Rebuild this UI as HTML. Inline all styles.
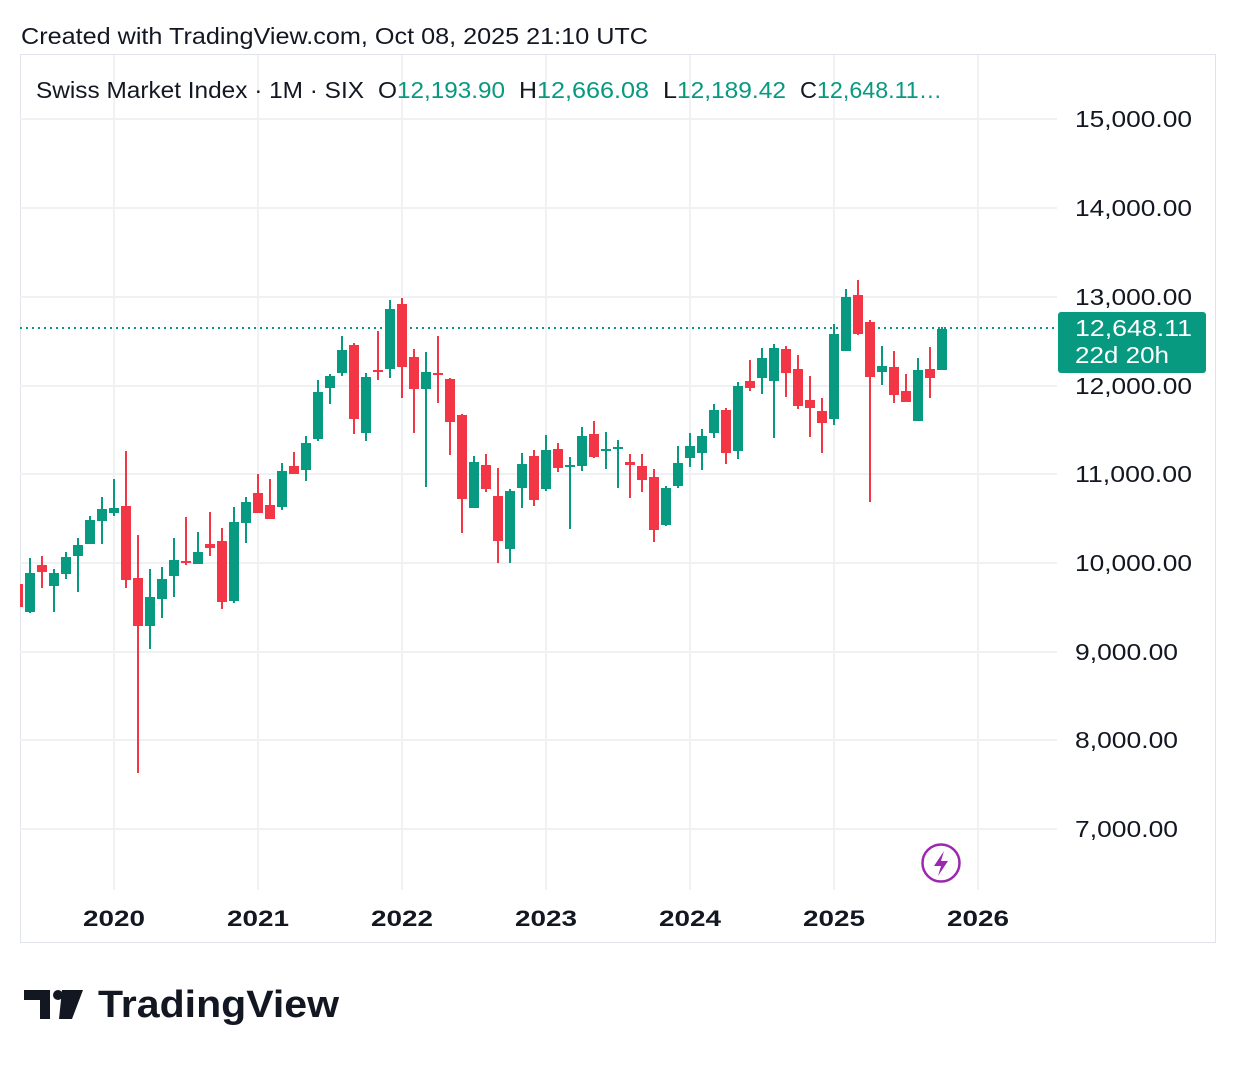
<!DOCTYPE html>
<html><head><meta charset="utf-8"><style>
body{margin:0;background:#fff;width:1236px;height:1064px;overflow:hidden;font-family:"Liberation Sans",sans-serif;}
</style></head><body>
<svg width="1236" height="1064" xmlns="http://www.w3.org/2000/svg" font-family="Liberation Sans, sans-serif">
<text x="21" y="44" font-size="23" fill="#131722" textLength="627" lengthAdjust="spacingAndGlyphs">Created with TradingView.com, Oct 08, 2025 21:10 UTC</text>
<rect x="20.5" y="54.5" width="1195" height="888" fill="none" stroke="#e0e3eb"/>
<g stroke="#f0f1f3" stroke-width="2">
<line x1="20" x2="1057" y1="119" y2="119"/><line x1="20" x2="1057" y1="208" y2="208"/><line x1="20" x2="1057" y1="297" y2="297"/><line x1="20" x2="1057" y1="386" y2="386"/><line x1="20" x2="1057" y1="474" y2="474"/><line x1="20" x2="1057" y1="563" y2="563"/><line x1="20" x2="1057" y1="652" y2="652"/><line x1="20" x2="1057" y1="740" y2="740"/><line x1="20" x2="1057" y1="829" y2="829"/>
<line x1="114" x2="114" y1="55" y2="890"/><line x1="258" x2="258" y1="55" y2="890"/><line x1="402" x2="402" y1="55" y2="890"/><line x1="546" x2="546" y1="55" y2="890"/><line x1="690" x2="690" y1="55" y2="890"/><line x1="834" x2="834" y1="55" y2="890"/><line x1="978" x2="978" y1="55" y2="890"/>
</g>
<line x1="20" x2="1057" y1="328" y2="328" stroke="#089981" stroke-width="2" stroke-dasharray="2,4"/>
<g id="c"></g>
<rect x="0" y="560" width="20" height="60" fill="#fff"/>
<g font-size="23" fill="#131722">
<text x="36" y="98" textLength="328" lengthAdjust="spacingAndGlyphs">Swiss Market Index · 1M · SIX</text>
<text x="378" y="98" textLength="19" lengthAdjust="spacingAndGlyphs">O</text>
<text x="397" y="98" fill="#089981" textLength="108" lengthAdjust="spacingAndGlyphs">12,193.90</text>
<text x="519" y="98" textLength="18" lengthAdjust="spacingAndGlyphs">H</text>
<text x="537" y="98" fill="#089981" textLength="112" lengthAdjust="spacingAndGlyphs">12,666.08</text>
<text x="663" y="98" textLength="14" lengthAdjust="spacingAndGlyphs">L</text>
<text x="677" y="98" fill="#089981" textLength="109" lengthAdjust="spacingAndGlyphs">12,189.42</text>
<text x="800" y="98" textLength="17" lengthAdjust="spacingAndGlyphs">C</text>
<text x="817" y="98" fill="#089981" textLength="125" lengthAdjust="spacingAndGlyphs">12,648.11…</text>
</g>
<g font-size="23" fill="#131722">
<text x="1075" y="127" textLength="117" lengthAdjust="spacingAndGlyphs">15,000.00</text><text x="1075" y="216" textLength="117" lengthAdjust="spacingAndGlyphs">14,000.00</text><text x="1075" y="305" textLength="117" lengthAdjust="spacingAndGlyphs">13,000.00</text><text x="1075" y="394" textLength="117" lengthAdjust="spacingAndGlyphs">12,000.00</text><text x="1075" y="482" textLength="117" lengthAdjust="spacingAndGlyphs">11,000.00</text><text x="1075" y="571" textLength="117" lengthAdjust="spacingAndGlyphs">10,000.00</text><text x="1075" y="660" textLength="103" lengthAdjust="spacingAndGlyphs">9,000.00</text><text x="1075" y="748" textLength="103" lengthAdjust="spacingAndGlyphs">8,000.00</text><text x="1075" y="837" textLength="103" lengthAdjust="spacingAndGlyphs">7,000.00</text>
</g>
<rect x="1058" y="312" width="148" height="61" rx="3" fill="#089981"/>
<text x="1075" y="336" font-size="23" fill="#fff" textLength="117" lengthAdjust="spacingAndGlyphs">12,648.11</text>
<text x="1075" y="363" font-size="23" fill="#fff" textLength="94" lengthAdjust="spacingAndGlyphs">22d 20h</text>
<g font-size="22" font-weight="bold" fill="#131722">
<text x="83" y="926" textLength="62" lengthAdjust="spacingAndGlyphs">2020</text><text x="227" y="926" textLength="62" lengthAdjust="spacingAndGlyphs">2021</text><text x="371" y="926" textLength="62" lengthAdjust="spacingAndGlyphs">2022</text><text x="515" y="926" textLength="62" lengthAdjust="spacingAndGlyphs">2023</text><text x="659" y="926" textLength="62" lengthAdjust="spacingAndGlyphs">2024</text><text x="803" y="926" textLength="62" lengthAdjust="spacingAndGlyphs">2025</text><text x="947" y="926" textLength="62" lengthAdjust="spacingAndGlyphs">2026</text>
</g>
<circle cx="941" cy="863" r="18.5" fill="none" stroke="#9c27b0" stroke-width="2.5"/>
<path d="M944 851 L934 866 L941 866 L938 876 L948 861 L941 861 Z" fill="#9c27b0"/>
<g fill="#131722">
<path d="M24 990 H50 V1019 H40 V1000 H24 Z"/>
<circle cx="58" cy="995" r="5"/>
<path d="M62 990 H83 L72 1019 H59 Z"/>
</g>
<text x="98" y="1017" font-size="38" font-weight="bold" fill="#131722" textLength="241" lengthAdjust="spacingAndGlyphs">TradingView</text>
</svg>
<script>
var d=[
[18,580,610,584,607,0],
[30,558,613,573,612,1],[42,556,588,565,572,0],[54,569,612,573,586,1],[66,552,579,557,574,1],[78,538,592,545,556,1],[90,516,544,520,544,1],[102,497,544,509,521,1],[114,479,516,508,513,1],[126,451,588,506,580,0],[138,535,773,578,626,0],[150,569,649,597,626,1],[162,567,618,579,599,1],[174,538,597,560,576,1],[186,517,565,561,563,0],[198,532,564,552,564,1],[210,512,556,544,548,0],[222,528,609,541,602,0],[234,507,603,522,601,1],[246,497,543,502,523,1],[258,474,513,493,513,0],[270,479,519,505,519,0],[282,463,510,471,507,1],[294,452,474,466,474,0],[306,436,481,443,470,1],[318,380,441,392,439,1],[330,374,404,376,388,1],[342,336,376,350,373,1],[354,343,434,345,419,0],[366,373,441,377,433,1],[378,331,380,370,372,0],[390,300,378,309,369,1],[402,298,398,304,367,0],[414,349,433,357,389,0],[426,352,487,372,389,1],[438,336,403,373,375,0],[450,378,455,379,422,0],[462,414,533,415,499,0],[474,456,508,462,508,1],[486,454,492,465,489,0],[498,468,563,496,541,0],[510,489,563,491,549,1],[522,453,508,464,488,1],[534,450,506,456,500,0],[546,435,491,450,489,1],[558,443,472,449,468,0],[570,457,529,465,467,1],[582,427,471,436,466,1],[594,421,458,434,457,0],[606,432,469,449,451,1],[618,440,488,447,449,1],[630,454,498,462,465,0],[642,454,492,466,480,0],[654,469,542,477,530,0],[666,486,526,488,525,1],[678,446,488,463,486,1],[690,433,467,446,458,1],[702,429,470,436,453,1],[714,404,438,410,433,1],[726,408,464,410,453,0],[738,382,459,386,451,1],[750,360,391,381,388,0],[762,348,394,358,378,1],[774,344,438,348,381,1],[786,346,397,349,373,0],[798,355,409,369,406,0],[810,376,437,400,408,0],[822,398,453,411,423,0],[834,324,425,334,419,1],[846,289,351,297,351,1],[858,280,335,295,334,0],[870,320,502,322,377,0],[882,346,385,366,372,1],[894,351,403,367,395,0],[906,374,402,391,402,0],[918,358,421,370,421,1],[930,347,398,369,378,0],[942,327,370,329,370,1]];
var s='';d.forEach(function(c){var col=c[5]?'#089981':'#f23645';s+='<rect x="'+(c[0]-1)+'" y="'+c[1]+'" width="2" height="'+(c[2]-c[1])+'" fill="'+col+'"/>';s+='<rect x="'+(c[0]-5)+'" y="'+c[3]+'" width="10" height="'+Math.max(2,c[4]-c[3])+'" fill="'+col+'"/>';});
document.getElementById('c').innerHTML=s;
</script>
</body></html>
